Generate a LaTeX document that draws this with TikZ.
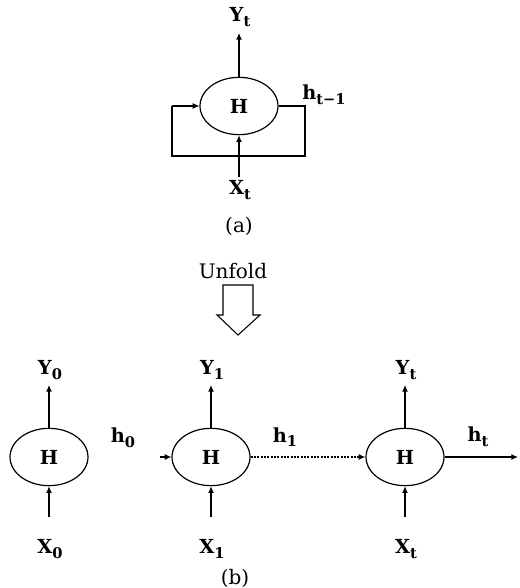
\documentclass[tikz,border=0pt]{standalone}
\usepackage{fontspec}
\setmainfont{DejaVu Serif}
\usetikzlibrary{shapes.geometric,arrows.meta}
\newcommand\lsub[1]{\raisebox{-0.45ex}{\fontsize{11}{11}\selectfont #1}}
\tikzset{
  cell/.style={draw, ellipse, line width=0.9pt, minimum width=58.5pt, minimum height=43pt, inner sep=0pt,
    font=\fontsize{14.5}{16}\selectfont\bfseries},
  lab/.style={font=\fontsize{14.5}{16}\selectfont\bfseries, inner sep=0pt},
  captxt/.style={font=\fontsize{15}{17}\selectfont, inner sep=0pt},
  conn/.style={line width=0.9pt, -{Latex[length=5pt,width=4.5pt]}},
  plain/.style={line width=0.9pt}
}
\begin{document}
\begin{tikzpicture}[x=0.75pt,y=-0.75pt]
\useasboundingbox (0,0) rectangle (519,588);
% (a)
\node[cell] (H) at (239,106) {H};
\node[lab] (Yt) at (240,17) {Y\lsub{t}};
\coordinate (Ytend) at (239,33);
\node[lab] (Xt) at (240,190) {X\lsub{t}};
\coordinate (Xtstart) at (239,177);
\node[lab] (htm) at (324,95) {h\lsub{t−1}};
\node[captxt] (a) at (239,226) {(a)};
\coordinate (r1) at (305,106);
\coordinate (r2) at (305,156);
\coordinate (l2) at (172,156);
\coordinate (l1) at (172,106);
\draw[conn] (H.north) -- (Ytend);
\draw[conn] (Xtstart) -- (H.south);
\draw[plain] (H.east) -- (r1) -- (r2) -- (l2) -- (l1);
\draw[conn] (l1) -- (H.west);
% unfold
\node[captxt] (unf) at (233,271) {Unfold};
\draw[line width=0.8pt] (223,285) -- (253,285) -- (253,315) -- (260,315) -- (238,335) -- (217,315) -- (223,315) -- cycle;
% (b)
\node[cell] (E0) at (49,457) {H};
\node[cell] (E1) at (211,457) {H};
\node[cell] (E2) at (405,457) {H};
\node[lab] (Y0) at (50,370) {Y\lsub{0}};
\node[lab] (Y1) at (212,370) {Y\lsub{1}};
\node[lab] (Y2) at (406,370) {Y\lsub{t}};
\node[lab] (X0) at (50,549) {X\lsub{0}};
\node[lab] (X1) at (212,549) {X\lsub{1}};
\node[lab] (X2) at (406,549) {X\lsub{t}};
\foreach \n/\x in {0/49,1/211,2/405}{
  \coordinate (yt\n) at (\x,385);
  \coordinate (xs\n) at (\x,517);
}
\draw[conn] (E0.north) -- (yt0);
\draw[conn] (E1.north) -- (yt1);
\draw[conn] (E2.north) -- (yt2);
\draw[conn] (xs0) -- (E0.south);
\draw[conn] (xs1) -- (E1.south);
\draw[conn] (xs2) -- (E2.south);
\node[lab] (h0) at (123,438) {h\lsub{0}};
\coordinate (h0s) at (160,457);
\draw[conn] (h0s) -- (E1.west);
\node[lab] (h1) at (285,437) {h\lsub{1}};
\draw[conn, dash pattern=on 1.5pt off 1pt] (E1.east) -- (E2.west);
\node[lab] (ht) at (478,437) {h\lsub{t}};
\coordinate (hte) at (518,457);
\draw[conn] (E2.east) -- (hte);
\node[captxt] (b) at (235,578) {(b)};
\end{tikzpicture}
\end{document}
